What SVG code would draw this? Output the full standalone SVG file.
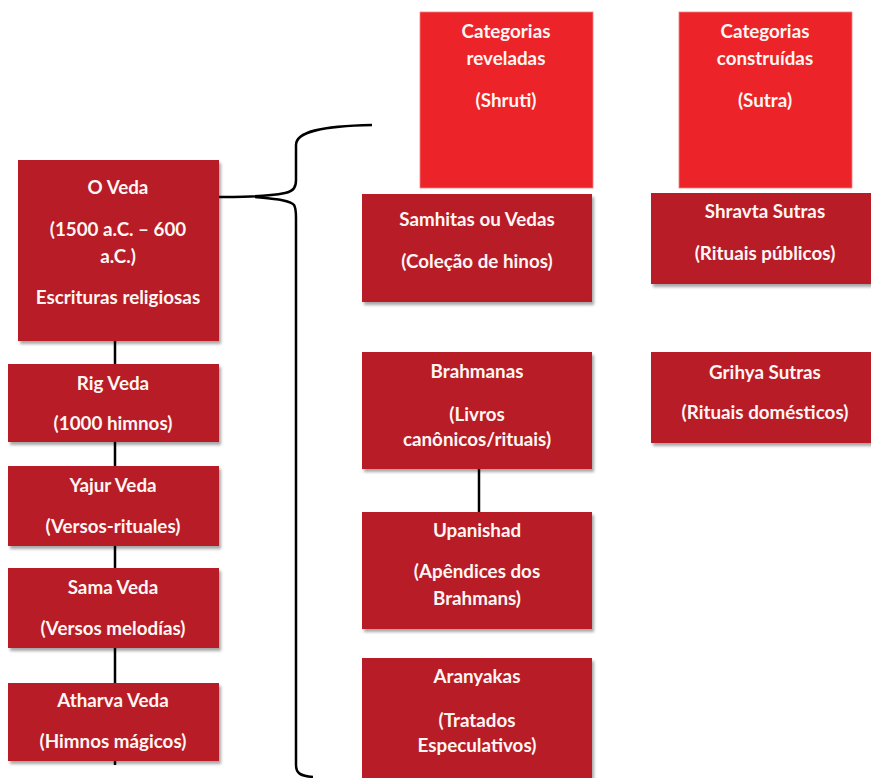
<svg xmlns="http://www.w3.org/2000/svg" width="871" height="778" viewBox="0 0 871 778">
<defs>
<filter id="sh" x="-10%" y="-10%" width="125%" height="125%">
<feGaussianBlur in="SourceAlpha" stdDeviation="1.5"/>
<feOffset dx="1.5" dy="2.5" result="b"/>
<feComponentTransfer><feFuncA type="linear" slope="0.35"/></feComponentTransfer>
<feMerge><feMergeNode/><feMergeNode in="SourceGraphic"/></feMerge>
</filter>
</defs>
<style>
.box{fill:#B81F26;filter:url(#sh)}
.cat{fill:#EC2328;stroke:#F08080;stroke-width:0.8}
text{font-family:Lato,"Liberation Sans",sans-serif;font-weight:bold;font-size:18.8px;fill:#FFF6F4;text-anchor:middle}
.ln{stroke:#000;stroke-width:2.5;fill:none}
</style>
<rect width="871" height="778" fill="#fff"/>
<g id="connectors">
<line class="ln" x1="115" y1="341" x2="115" y2="765"/>
<line class="ln" x1="479" y1="469" x2="479" y2="512"/>
<path class="ln" d="M207,197 C240,197 265,197 285,193 C294,191 296,187 296,180 L296,145 C296,132 320,126 372,125"/>
<path class="ln" d="M255,197 C275,199 290,200 294,205 C296,208 296,212 296,218 L296,765 C296,773 300,776 313,777"/>
</g>
<g id="cat-reveladas"><rect class="cat" x="420" y="12" width="173" height="176"/>
<text x="506" y="38">Categorias</text><text x="506" y="65">reveladas</text><text x="506" y="107">(Shruti)</text></g>
<g id="cat-construidas"><rect class="cat" x="679" y="12" width="173" height="176"/>
<text x="765" y="38">Categorias</text><text x="765" y="65">construídas</text><text x="765" y="107">(Sutra)</text></g>
<g id="o-veda"><rect class="box" x="18" y="160" width="201" height="181"/>
<text x="118" y="194">O Veda</text><text x="118" y="236">(1500 a.C. – 600</text><text x="118" y="263">a.C.)</text><text x="118" y="304">Escrituras religiosas</text></g>
<g id="rig-veda"><rect class="box" x="8" y="364" width="211" height="78"/>
<text x="113" y="390">Rig Veda</text><text x="113" y="430">(1000 himnos)</text></g>
<g id="yajur-veda"><rect class="box" x="8" y="466" width="211" height="80"/>
<text x="113" y="492">Yajur Veda</text><text x="113" y="533">(Versos-rituales)</text></g>
<g id="sama-veda"><rect class="box" x="8" y="568" width="211" height="80"/>
<text x="113" y="594">Sama Veda</text><text x="113" y="635">(Versos melodías)</text></g>
<g id="atharva-veda"><rect class="box" x="8" y="683" width="211" height="78"/>
<text x="113" y="707">Atharva Veda</text><text x="113" y="748">(Himnos mágicos)</text></g>
<g id="samhitas"><rect class="box" x="362" y="194" width="230" height="108"/>
<text x="477" y="226">Samhitas ou Vedas</text><text x="477" y="268">(Coleção de hinos)</text></g>
<g id="shravta"><rect class="box" x="651" y="193" width="222" height="91"/>
<text x="765" y="218">Shravta Sutras</text><text x="765" y="260">(Rituais públicos)</text></g>
<g id="brahmanas"><rect class="box" x="362" y="352" width="230" height="117"/>
<text x="477" y="378">Brahmanas</text><text x="477" y="421">(Livros</text><text x="477" y="446">canônicos/rituais)</text></g>
<g id="grihya"><rect class="box" x="651" y="352" width="222" height="91"/>
<text x="765" y="379">Grihya Sutras</text><text x="765" y="419">(Rituais domésticos)</text></g>
<g id="upanishad"><rect class="box" x="362" y="512" width="230" height="117"/>
<text x="477" y="537">Upanishad</text><text x="477" y="578">(Apêndices dos</text><text x="477" y="605">Brahmans)</text></g>
<g id="aranyakas"><rect class="box" x="362" y="658" width="230" height="125"/>
<text x="477" y="683">Aranyakas</text><text x="477" y="727">(Tratados</text><text x="477" y="752">Especulativos)</text></g>
</svg>
